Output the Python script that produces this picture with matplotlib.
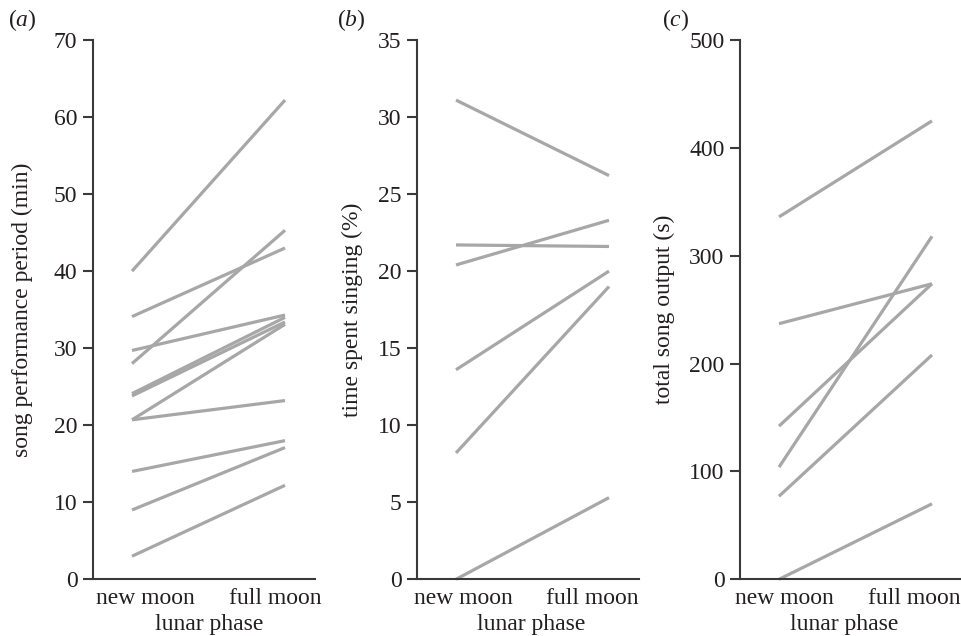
import matplotlib
matplotlib.use("Agg")
import matplotlib.pyplot as plt

plt.rcParams['font.family'] = ['Liberation Serif', 'DejaVu Serif']
plt.rcParams['mathtext.fontset'] = 'custom'
plt.rcParams['mathtext.it'] = 'Liberation Serif:italic'
plt.rcParams['mathtext.rm'] = 'Liberation Serif'

phases = ["new moon", "full moon"]

# (a) song performance period (min)
a_new = [40.0, 34.1, 28.0, 29.7, 23.8, 24.1, 20.7, 20.7, 14.0, 9.0, 3.0]
a_full = [62.2, 43.0, 45.3, 34.3, 33.4, 34.0, 33.1, 23.2, 18.0, 17.1, 12.2]

# (b) time spent singing (%)
b_new = [31.1, 21.7, 20.4, 13.6, 8.2, 0.0]
b_full = [26.2, 21.6, 23.3, 20.0, 19.0, 5.3]

# (c) total song output (s)
c_new = [336, 237, 142, 104, 77, 0]
c_full = [425, 274, 274, 318, 208, 70]

panels = [
    ("a", a_new, a_full, "song performance period (min)", 70, 10, -0.27),
    ("b", b_new, b_full, "time spent singing (%)", 35, 5, -0.245),
    ("c", c_new, c_full, "total song output (s)", 500, 100, -0.293),
]

W, H = 961, 636
fig = plt.figure(figsize=(W / 100, H / 100), dpi=100)

lefts = [93, 417, 740]
label_x = [8, 337, 662]
tick_pos = [[0.085, 0.938], [0.046, 0.889], [0.033, 0.886]]
xlab_pos = [0.523, 0.514, 0.471]
line_color = "#a7a7a7"
axis_color = "#3a3a3a"
text_color = "#231f20"
fs = 17

for i, (tag, new, full, ylab, ymax, ystep, lx) in enumerate(panels):
    ax = fig.add_axes([lefts[i] / W, 1 - 579.3 / H, 222 / W, (579.3 - 40) / H])
    for n, f in zip(new, full):
        ax.plot([0, 1], [n, f], color=line_color, lw=2.3, solid_capstyle="butt", clip_on=False)
    ax.set_xlim(-0.255, 1.196)
    ax.set_ylim(0, ymax)
    ax.set_yticks(range(0, ymax + 1, ystep))
    ax.set_xticks(tick_pos[i])
    ax.set_xticklabels(phases)
    for s in ["top", "right"]:
        ax.spines[s].set_visible(False)
    for s in ["left", "bottom"]:
        ax.spines[s].set_color(axis_color)
        ax.spines[s].set_linewidth(1.5)
    ax.tick_params(axis="y", length=7.2, width=1.5, color=axis_color, pad=4,
                   labelsize=fs, labelcolor=text_color)
    ax.tick_params(axis="x", length=0, pad=6, labelsize=fs, labelcolor=text_color)
    ax.set_ylabel(ylab, fontsize=fs, color=text_color)
    ax.yaxis.set_label_coords(lx, 0.5)
    ax.set_xlabel("lunar phase", fontsize=fs, color=text_color, labelpad=0)
    ax.xaxis.set_label_coords(xlab_pos[i], -0.064)
    ax.xaxis.label.set_verticalalignment("top")
    fig.text(label_x[i] / W, 1 - 20 / H, "($\\mathit{%s}$)" % tag, fontsize=fs,
             color=text_color, ha="left", va="center")

fig.savefig("out.png", dpi=100)
